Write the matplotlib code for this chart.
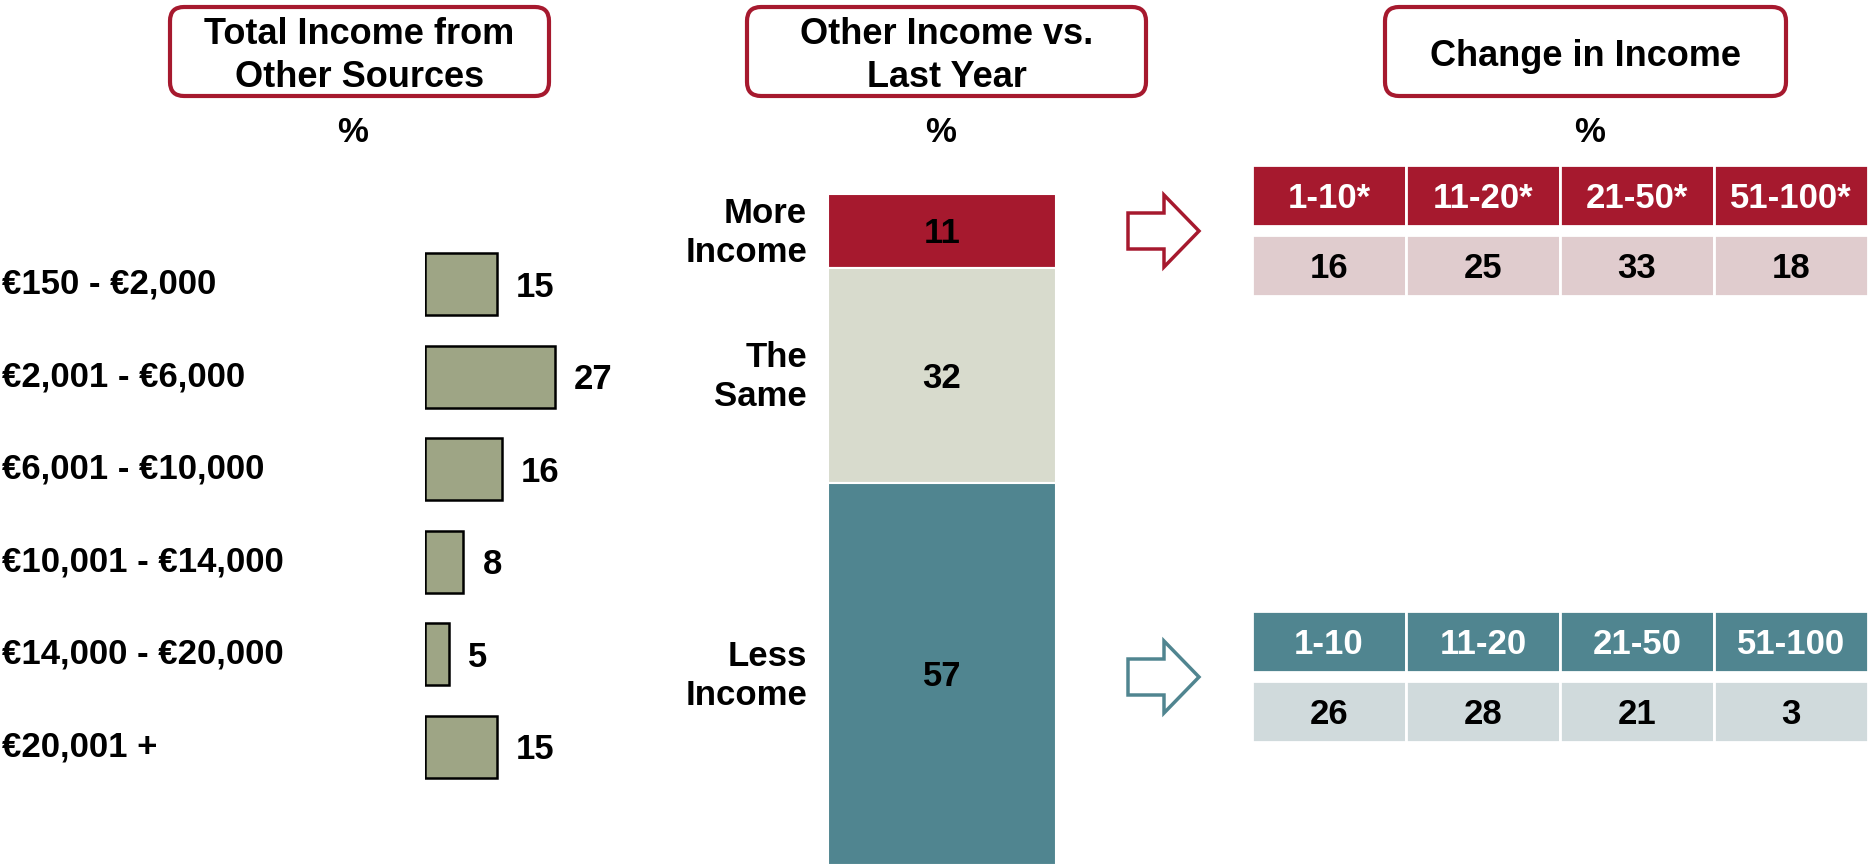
import matplotlib
matplotlib.use('Agg')
import matplotlib.pyplot as plt
from matplotlib.patches import FancyBboxPatch, FancyArrow
from matplotlib.transforms import blended_transform_factory

plt.rcParams['font.family'] = ['Liberation Sans', 'DejaVu Sans']
plt.rcParams['font.weight'] = 'bold'

# total income from other sources
income_bands = ['€150 - €2,000', '€2,001 - €6,000', '€6,001 - €10,000',
                '€10,001 - €14,000', '€14,000 - €20,000', '€20,001 +']
income_pct = [15, 27, 16, 8, 5, 15]

# other income vs. last year
change_labels = ['More\nIncome', 'The\nSame', 'Less\nIncome']
change_pct = [11, 32, 57]

# change in income
more_cols = ['1-10*', '11-20*', '21-50*', '51-100*']
more_pct = [16, 25, 33, 18]
less_cols = ['1-10', '11-20', '21-50', '51-100']
less_pct = [26, 28, 21, 3]

W, H = 1874, 865
RED = '#A6192E'
TEAL = '#508590'
OLIVE = '#9EA585'
SAME = '#D8DBCD'
RED_LIGHT = '#E0CCCE'
TEAL_LIGHT = '#D0DADC'

fig = plt.figure(figsize=(W / 100, H / 100), dpi=100)


def add_ax(x0, y0, x1, y1):
    # pixel box (top-left origin) -> figure axes
    ax = fig.add_axes([x0 / W, 1 - y1 / H, (x1 - x0) / W, (y1 - y0) / H])
    ax.axis('off')
    return ax


# overlay for title boxes and arrows
ov = fig.add_axes([0, 0, 1, 1])
ov.set_xlim(0, W)
ov.set_ylim(H, 0)
ov.axis('off')

titles = [(170, 549, 'Total Income from\nOther Sources', 353),
          (747, 1146, 'Other Income vs.\nLast Year', 941),
          (1385, 1786, 'Change in Income', 1590)]
for x0, x1, t, pct_x in titles:
    ov.add_patch(FancyBboxPatch((x0, 7), x1 - x0, 89,
                                boxstyle='round,pad=0,rounding_size=14',
                                fc='white', ec=RED, lw=3))
    ov.text((x0 + x1) / 2, 56, t, ha='center', va='center',
            fontsize=26, linespacing=1.3)
    ov.text(pct_x, 133, '%', ha='center', va='center', fontsize=25)

for yc, col in [(231, RED), (677, TEAL)]:
    ov.add_patch(FancyArrow(1128, yc, 71, 0, width=36, head_width=72,
                            head_length=35, length_includes_head=True,
                            fc='white', ec=col, lw=2.5))

# left: horizontal bars
ax1 = add_ax(425, 238, 700, 793)
ax1.set_xlim(0, 275 / 4.8)
ax1.set_ylim(len(income_pct) - 0.5, -0.5)
ax1.barh(range(len(income_pct)), income_pct, height=0.67,
         color=OLIVE, edgecolor='black', lw=1.8)
lab_tr = blended_transform_factory(fig.transFigure, ax1.transData)
for i, (band, v) in enumerate(zip(income_bands, income_pct)):
    ax1.text(2 / W, i, band, transform=lab_tr, ha='left', va='center', fontsize=25)
    ax1.annotate(str(v), (v, i), xytext=(19, -3), textcoords='offset pixels',
                 ha='left', va='center', fontsize=25)

# middle: stacked bar
ax2 = add_ax(828, 194, 1056, 865)
ax2.set_xlim(-0.5, 0.5)
ax2.set_ylim(100, 0)
bottom = 0
for lab, v, c in zip(change_labels, change_pct, [RED, SAME, TEAL]):
    ax2.bar(0, v, bottom=bottom, width=1, color=c, edgecolor='white', lw=1.5)
    mid = bottom + v / 2
    ax2.annotate(str(v), (0, mid), xytext=(0, -3), textcoords='offset pixels',
                 ha='center', va='center', fontsize=25)
    ax2.annotate(lab, (-0.5, mid), xytext=(-21, -2), textcoords='offset pixels',
                 ha='right', va='center', multialignment='right',
                 fontsize=25, linespacing=1.25, annotation_clip=False)
    bottom += v


# right: small tables
def draw_table(y0, cols, vals, head_c, body_c):
    ax = add_ax(1252, y0, 1868, y0 + 131)
    ax.set_xlim(-0.5, len(cols) - 0.5)
    ax.set_ylim(2.15, 0)
    xs = range(len(cols))
    ax.bar(xs, 1, bottom=0, width=1, color=head_c, edgecolor='white', lw=2)
    ax.bar(xs, 1, bottom=1.15, width=1, color=body_c, edgecolor='white', lw=2)
    for i, (c, v) in enumerate(zip(cols, vals)):
        ax.text(i, 0.55, c, ha='center', va='center', color='white', fontsize=25)
        ax.text(i, 1.7, str(v), ha='center', va='center', color='black', fontsize=25)


draw_table(165, more_cols, more_pct, RED, RED_LIGHT)
draw_table(611, less_cols, less_pct, TEAL, TEAL_LIGHT)

fig.savefig('out.png', dpi=100, facecolor='white')
